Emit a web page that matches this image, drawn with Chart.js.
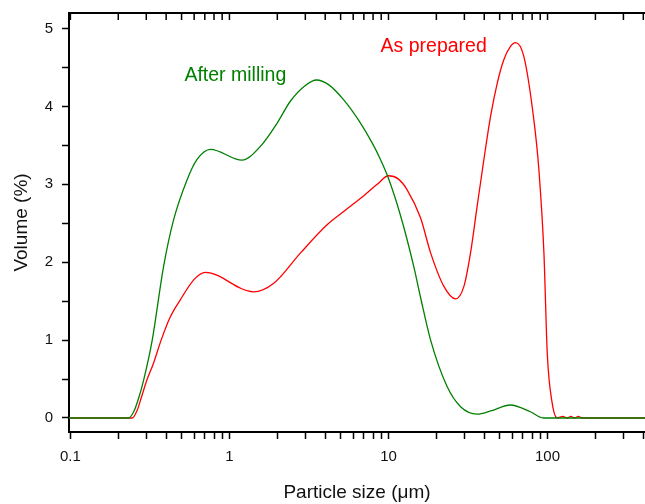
<!DOCTYPE html>
<html>
<head>
<meta charset="utf-8">
<script src="https://cdn.jsdelivr.net/npm/chart.js@4.4.1/dist/chart.umd.min.js"></script>
<style>
  html, body { margin: 0; padding: 0; background: #fff; }
  canvas { display: block; }
</style>
</head>
<body>
<canvas id="psd" width="645" height="504"></canvas>
<script>
// particle size distribution
const millSize = [0.098, 0.15, 0.22, 0.232, 0.25, 0.27, 0.289, 0.327, 0.385, 0.445, 0.542, 0.626, 0.76, 1.2, 1.57, 2.0, 2.42, 3.0, 3.53, 4.2, 5.2, 6.5, 8.05, 8.9, 9.9, 11.9, 14.4, 15.9, 18.4, 23.4, 28.4, 36.1, 43.9, 58.5, 78, 94, 150, 410];
const millVolume = [0, 0, 0, 0, 0.08, 0.27, 0.49, 1.0, 1.94, 2.54, 3.06, 3.32, 3.45, 3.31, 3.49, 3.79, 4.07, 4.27, 4.34, 4.28, 4.09, 3.82, 3.5, 3.32, 3.1, 2.6, 1.95, 1.55, 1.0, 0.4, 0.145, 0.05, 0.09, 0.167, 0.08, 0, 0, 0];

const prepSize = [0.098, 0.15, 0.22, 0.245, 0.263, 0.28, 0.303, 0.33, 0.372, 0.425, 0.492, 0.6, 0.706, 1.42, 1.9, 2.8, 4.11, 5.3, 6.67, 8.5, 10.0, 11.5, 13.1, 15.9, 18.4, 22.3, 26.4, 29.8, 32.8, 36.1, 39.8, 43.8, 48.3, 53.1, 58.5, 62.9, 71, 82, 88.2, 94.9, 99.6, 107, 115, 125, 133, 140, 148, 156, 165, 410];
const prepVolume = [0, 0, 0, 0, 0.1, 0.27, 0.49, 0.68, 1.0, 1.30, 1.52, 1.78, 1.87, 1.62, 1.73, 2.12, 2.48, 2.66, 2.82, 3.0, 3.11, 3.07, 2.93, 2.57, 2.12, 1.69, 1.53, 1.69, 2.12, 2.72, 3.32, 3.87, 4.30, 4.60, 4.77, 4.82, 4.64, 3.83, 3.19, 2.12, 0.83, 0.19, 0, 0.02, 0, 0.02, 0, 0.02, 0, 0];

const xTickValues = [0.1, 0.2, 0.3, 0.4, 0.5, 0.6, 0.7, 0.8, 0.9, 1, 2, 3, 4, 5, 6, 7, 8, 9, 10, 20, 30, 40, 50, 60, 70, 80, 90, 100, 200, 300, 400];
const xLabelValues = [0.1, 1, 10, 100];
const yTickValues = [0, 0.5, 1, 1.5, 2, 2.5, 3, 3.5, 4, 4.5, 5];

const green = "#008000";
const red = "#ff0000";
const fontFamily = "'Liberation Sans', Arial, sans-serif";

const toPoints = (xs, ys) => xs.map((x, i) => ({ x: x, y: ys[i] }));

// top frame line with inward ticks
const topAxis = {
  id: "topAxis",
  afterDraw(chart) {
    const { ctx, chartArea, scales } = chart;
    ctx.save();
    ctx.strokeStyle = "#000";
    ctx.lineWidth = 2;
    ctx.beginPath();
    ctx.moveTo(chartArea.left - 1, chartArea.top);
    ctx.lineTo(chartArea.right, chartArea.top);
    ctx.stroke();
    ctx.lineWidth = 1.5;
    ctx.beginPath();
    xTickValues.forEach(v => {
      const px = scales.x.getPixelForValue(v);
      ctx.moveTo(px, chartArea.top);
      ctx.lineTo(px, chartArea.top + 7);
    });
    ctx.stroke();
    ctx.restore();
  }
};

// curve labels
const curveLabels = {
  id: "curveLabels",
  afterDraw(chart) {
    const { ctx, scales } = chart;
    ctx.save();
    ctx.font = "19.5px " + fontFamily;
    ctx.textAlign = "left";
    ctx.textBaseline = "alphabetic";
    ctx.fillStyle = green;
    ctx.fillText("After milling", scales.x.getPixelForValue(0.521), scales.y.getPixelForValue(4.33));
    ctx.fillStyle = red;
    ctx.fillText("As prepared", scales.x.getPixelForValue(8.91), scales.y.getPixelForValue(4.70));
    ctx.restore();
  }
};

new Chart(document.getElementById("psd"), {
  type: "line",
  data: {
    datasets: [
      {
        label: "After milling",
        data: toPoints(millSize, millVolume),
        borderColor: green,
        borderWidth: 1.3,
        pointRadius: 0,
        cubicInterpolationMode: "monotone",
        fill: false,
      },
      {
        label: "As prepared",
        data: toPoints(prepSize, prepVolume),
        borderColor: red,
        borderWidth: 1.3,
        pointRadius: 0,
        cubicInterpolationMode: "monotone",
        fill: false,
      },
    ],
  },
  options: {
    responsive: false,
    animation: false,
    devicePixelRatio: 1,
    layout: { padding: { top: 13, right: 0, left: 0, bottom: 0 } },
    plugins: { legend: { display: false }, tooltip: { enabled: false } },
    scales: {
      x: {
        type: "logarithmic",
        min: 0.098,
        max: 410,
        afterBuildTicks: (scale) => { scale.ticks = xTickValues.map(v => ({ value: v })); },
        afterFit: (scale) => {
          scale.height = 72;
          scale.paddingLeft = 0;
          scale.paddingRight = 0;
        },
        ticks: {
          autoSkip: false,
          maxRotation: 0,
          padding: 9,
          color: "#111",
          font: { family: fontFamily, size: 15 },
          callback: (value) => xLabelValues.includes(value) ? String(value) : "",
        },
        grid: { drawOnChartArea: false, drawTicks: true, tickLength: 7, tickWidth: 1.5, tickColor: "#000" },
        border: { color: "#000", width: 2 },
        title: {
          display: true,
          text: "Particle size (\u03bcm)",
          color: "#111",
          font: { family: fontFamily, size: 19 },
          padding: { top: 0, bottom: 0 },
        },
      },
      y: {
        type: "linear",
        min: -0.18,
        max: 5.2,
        afterBuildTicks: (scale) => { scale.ticks = yTickValues.map(v => ({ value: v })); },
        afterFit: (scale) => {
          scale.width = 69;
          scale.paddingTop = 0;
          scale.paddingBottom = 0;
        },
        ticks: {
          padding: 9,
          color: "#111",
          font: { family: fontFamily, size: 15 },
          callback: (value) => Number.isInteger(value) ? String(value) : "",
        },
        grid: { drawOnChartArea: false, drawTicks: true, tickLength: 7, tickWidth: 1.5, tickColor: "#000" },
        border: { color: "#000", width: 2 },
        title: {
          display: true,
          text: "Volume (%)",
          color: "#111",
          font: { family: fontFamily, size: 19 },
          padding: { top: 10, bottom: 0 },
        },
      },
    },
  },
  plugins: [topAxis, curveLabels],
});
</script>
</body>
</html>
